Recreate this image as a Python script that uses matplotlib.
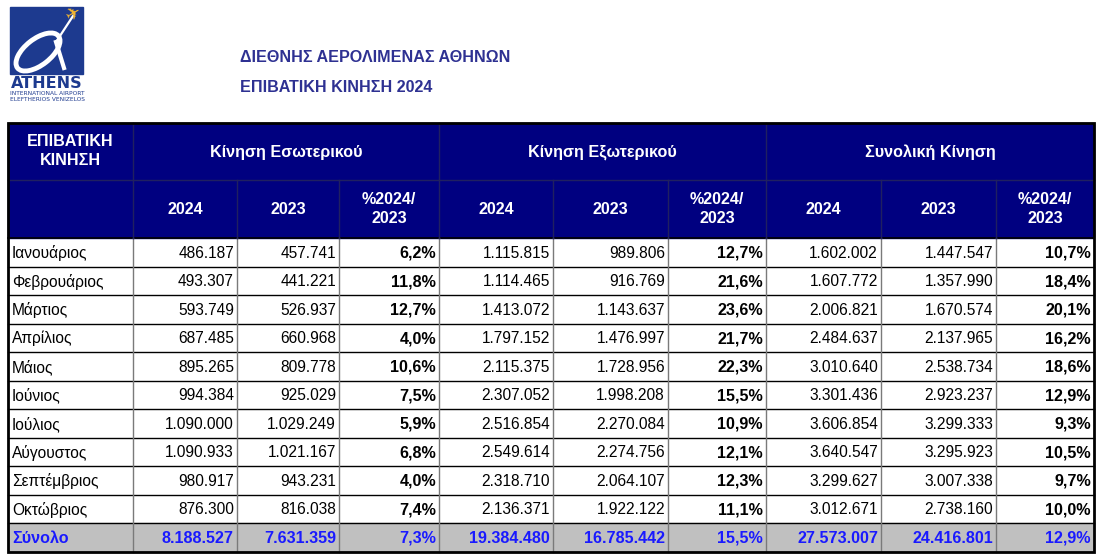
import matplotlib.pyplot as plt
from matplotlib.patches import Rectangle, Arc

plt.rcParams['font.family'] = ['Liberation Sans', 'DejaVu Sans']

# data
months = ['Ιανουάριος', 'Φεβρουάριος', 'Μάρτιος', 'Απρίλιος', 'Μάιος', 'Ιούνιος',
          'Ιούλιος', 'Αύγουστος', 'Σεπτέμβριος', 'Οκτώβριος']
dom_2024 = [486187, 493307, 593749, 687485, 895265, 994384, 1090000, 1090933, 980917, 876300]
dom_2023 = [457741, 441221, 526937, 660968, 809778, 925029, 1029249, 1021167, 943231, 816038]
dom_pct = [6.2, 11.8, 12.7, 4.0, 10.6, 7.5, 5.9, 6.8, 4.0, 7.4]
int_2024 = [1115815, 1114465, 1413072, 1797152, 2115375, 2307052, 2516854, 2549614, 2318710, 2136371]
int_2023 = [989806, 916769, 1143637, 1476997, 1728956, 1998208, 2270084, 2274756, 2064107, 1922122]
int_pct = [12.7, 21.6, 23.6, 21.7, 22.3, 15.5, 10.9, 12.1, 12.3, 11.1]
tot_2024 = [1602002, 1607772, 2006821, 2484637, 3010640, 3301436, 3606854, 3640547, 3299627, 3012671]
tot_2023 = [1447547, 1357990, 1670574, 2137965, 2538734, 2923237, 3299333, 3295923, 3007338, 2738160]
tot_pct = [10.7, 18.4, 20.1, 16.2, 18.6, 12.9, 9.3, 10.5, 9.7, 10.0]

total_label = 'Σύνολο'
total_row = [8188527, 7631359, 7.3, 19384480, 16785442, 15.5, 27573007, 24416801, 12.9]

groups = ['Κίνηση Εσωτερικού', 'Κίνηση Εξωτερικού', 'Συνολική Κίνηση']
sub_headers = ['2024', '2023', '%2024/\n2023']
corner = 'ΕΠΙΒΑΤΙΚΗ\nΚΙΝΗΣΗ'
title1 = 'ΔΙΕΘΝΗΣ ΑΕΡΟΛΙΜΕΝΑΣ ΑΘΗΝΩΝ'
title2 = 'ΕΠΙΒΑΤΙΚΗ ΚΙΝΗΣΗ 2024'

# layout (pixels)
xs = [8, 133, 237, 339, 439, 553, 668, 766, 881, 996, 1094]
y_top, y_h1, y_h2 = 123, 180, 238
row_h = 28.5
FS = 11.2
FSB = 11.6

NAVY = '#000080'
GREY = '#c0c0c0'
BLUE = '#1a1aff'
TITLE = '#2e3192'
LOGO = '#1d3a8f'


def fmt_int(v):
    return f'{v:,}'.replace(',', '.')


def fmt_pct(v):
    return f'{v:.1f}%'.replace('.', ',')


fig = plt.figure(figsize=(11.05, 5.56), dpi=100)
ax = fig.add_axes([0, 0, 1, 1])
ax.set_xlim(0, 1105)
ax.set_ylim(556, 0)
ax.axis('off')

# logo
ax.add_patch(Rectangle((10, 7), 73, 67, color=LOGO, zorder=2))
ax.add_patch(Arc((38, 52), 52, 26, angle=-38, theta1=0, theta2=360,
                 color='white', lw=3.5, zorder=3))
ax.plot([56, 73], [42, 16], color='white', lw=1.6, zorder=3)
ax.plot([56, 64], [42, 68], color='white', lw=3, zorder=3)
ax.text(74, 14, '✈', color='#f2b531', fontsize=13, ha='center', va='center',
        rotation=30, family='DejaVu Sans', zorder=4)
ax.text(47, 83, 'ATHENS', color=LOGO, fontsize=11.5, fontweight='bold',
        ha='center', va='center', family='DejaVu Sans')
ax.text(47, 93.5, 'INTERNATIONAL AIRPORT', color=LOGO, fontsize=4.2,
        ha='center', va='center', family='DejaVu Sans')
ax.text(47, 99.5, 'ELEFTHERIOS VENIZELOS', color=LOGO, fontsize=4.2,
        ha='center', va='center', family='DejaVu Sans')

# titles
ax.text(240, 58, title1, color=TITLE, fontsize=FSB, fontweight='bold', va='center')
ax.text(240, 88, title2, color=TITLE, fontsize=FSB, fontweight='bold', va='center')

# header background
ax.add_patch(Rectangle((xs[0], y_top), xs[-1] - xs[0], y_h2 - y_top, color=NAVY, zorder=1))
hdr = dict(color='white', fontsize=FSB, fontweight='bold', ha='center', va='center',
           linespacing=1.35, zorder=5)
ax.text((xs[0] + xs[1]) / 2, 151, corner, **hdr)
for g, name in enumerate(groups):
    x0, x1 = xs[1 + 3 * g], xs[4 + 3 * g]
    ax.text((x0 + x1) / 2, 152, name, **hdr)
    for k, sub in enumerate(sub_headers):
        c0, c1 = xs[1 + 3 * g + k], xs[2 + 3 * g + k]
        ax.text((c0 + c1) / 2, 209, sub, **hdr)

# body rows
cols = [dom_2024, dom_2023, dom_pct, int_2024, int_2023, int_pct, tot_2024, tot_2023, tot_pct]
n = len(months)
for i in range(n + 1):
    y0 = y_h2 + i * row_h
    yc = y0 + row_h / 2 + 1
    is_total = i == n
    if is_total:
        ax.add_patch(Rectangle((xs[0], y0), xs[-1] - xs[0], row_h, color=GREY, zorder=1))
        ax.text(xs[0] + 4, yc, total_label, color=BLUE, fontsize=FSB, fontweight='bold',
                va='center', zorder=5)
    else:
        ax.text(xs[0] + 4, yc, months[i], color='black', fontsize=FS, va='center', zorder=5)
    for j in range(9):
        v = total_row[j] if is_total else cols[j][i]
        pct = j % 3 == 2
        s = fmt_pct(v) if pct else fmt_int(v)
        bold = pct or is_total
        ax.text(xs[j + 2] - 3, yc, s, ha='right', va='center',
                fontsize=FSB if bold else FS,
                color=BLUE if is_total else 'black',
                fontweight='bold' if bold else 'normal', zorder=5)

y_bot = y_h2 + (n + 1) * row_h

# grid lines
for i in range(1, n + 1):
    y = y_h2 + i * row_h
    ax.plot([xs[0], xs[-1]], [y, y], color='black', lw=1, zorder=3)
ax.plot([xs[0], xs[-1]], [y_h1, y_h1], color='#202060', lw=1, zorder=3)
ax.plot([xs[0], xs[-1]], [y_h2, y_h2], color='black', lw=1.2, zorder=3)
for k, x in enumerate(xs[1:-1], start=1):
    ax.plot([x, x], [y_h2, y_bot], color='#7a7a7a', lw=1, zorder=3)
    if k == 1 or (k - 1) % 3 == 0:
        ax.plot([x, x], [y_top, y_h2], color='#202060', lw=1, zorder=3)
    else:
        ax.plot([x, x], [y_h1, y_h2], color='#202060', lw=1, zorder=3)
ax.add_patch(Rectangle((xs[0], y_top), xs[-1] - xs[0], y_bot - y_top, fill=False,
                       edgecolor='black', lw=2, zorder=6))

fig.savefig('out.png', dpi=100)
